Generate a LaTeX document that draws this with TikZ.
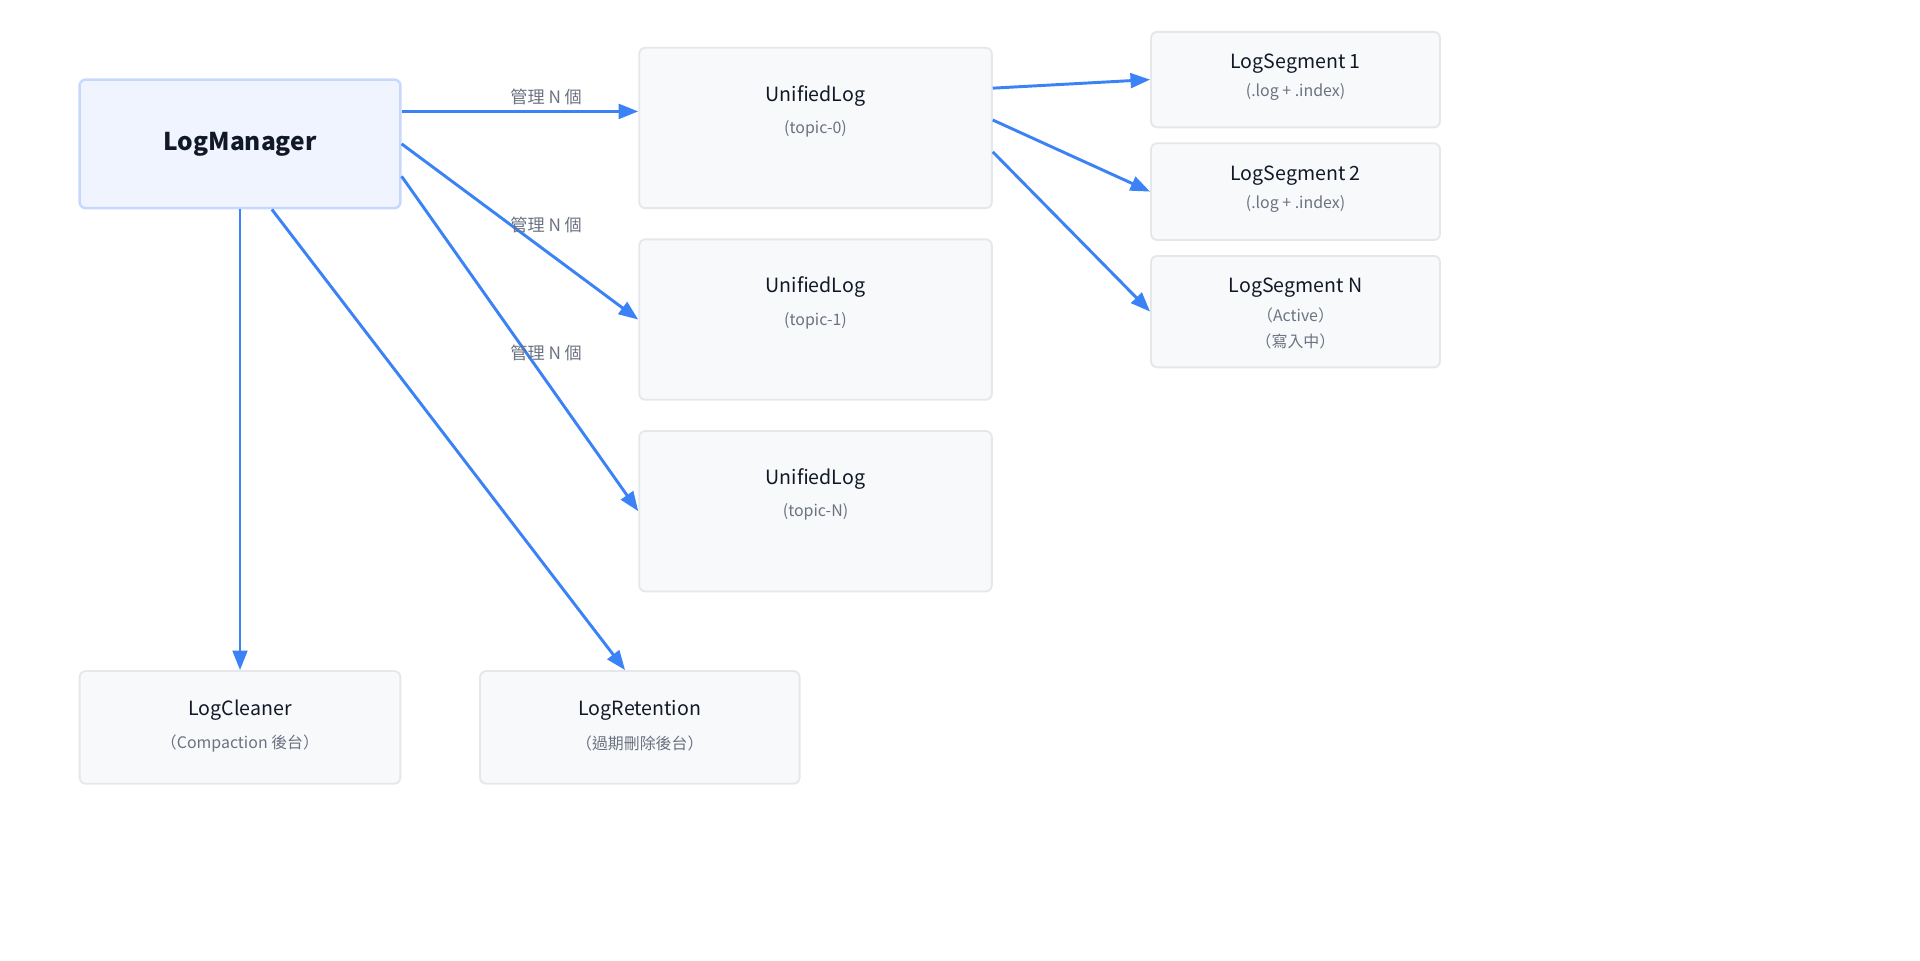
\documentclass[tikz,border=0pt]{standalone}
\usepackage{fontspec}
\setmainfont{Noto Sans CJK TC}
\usetikzlibrary{arrows.meta}
\definecolor{arrowBlue}{HTML}{3B82F6}
\definecolor{mgrFill}{HTML}{EFF4FF}
\definecolor{mgrLine}{HTML}{C7D7FE}
\definecolor{boxFill}{HTML}{F8F9FB}
\definecolor{boxLine}{HTML}{E5E7EB}
\definecolor{titleGray}{HTML}{111827}
\definecolor{subGray}{HTML}{6B7280}
\tikzset{
  compbox/.style={draw=boxLine, fill=boxFill, line width=1.5pt, rounded corners=5pt, minimum width=#1, inner sep=0pt},
  title/.style={text=titleGray, font=\fontsize{16}{19}\selectfont},
  sub/.style={text=subGray, font=\fontsize{13}{16}\selectfont},
  flow/.style={draw=arrowBlue, line width=2.4pt, -{Triangle[length=16pt,width=12pt]}},
  edgelabel/.style={text=subGray, font=\fontsize{14}{17}\selectfont},
}
\begin{document}
\begin{tikzpicture}[x=1pt, y=-1pt]
  \useasboundingbox (0,0) rectangle (1568,784);
  % manager
  \node[compbox=262pt, minimum height=105pt, draw=mgrLine, fill=mgrFill, line width=2pt] (lm) at (196,117.5) {};
  \node[text=titleGray, font=\bfseries\fontsize{20}{24}\selectfont] (lmtitle) at (lm) {LogManager};

  % unified logs
  \foreach \name/\y/\topic in {ul0/104.5/topic-0, ul1/261/topic-1, uln/417.5/topic-N}{
    \node[compbox=288pt, minimum height=131pt] (\name) at (666,\y) {};
    \node[title] (\name title) at ([yshift=-40]\name.north) {UnifiedLog};
    \node[sub] (\name sub) at ([yshift=-67]\name.north) {(\topic)};
  }

  % segments
  \node[compbox=236pt, minimum height=78pt] (seg1) at (1058,65) {};
  \node[title] (seg1title) at ([yshift=-27]seg1.north) {LogSegment 1};
  \node[sub] (seg1sub) at ([yshift=-50]seg1.north) {(.log + .index)};
  \node[compbox=236pt, minimum height=79pt] (seg2) at (1058,156.5) {};
  \node[title] (seg2title) at ([yshift=-27]seg2.north) {LogSegment 2};
  \node[sub] (seg2sub) at ([yshift=-50]seg2.north) {(.log + .index)};
  \node[compbox=236pt, minimum height=91pt] (segn) at (1058,254.5) {};
  \node[title] (segntitle) at ([yshift=-27]segn.north) {LogSegment N};
  \node[sub] (segnsub) at ([yshift=-49]segn.north) {（Active）};
  \node[sub] (segnsub2) at ([yshift=-71]segn.north) {（寫入中）};

  % background workers
  \node[compbox=262pt, minimum height=92pt] (cleaner) at (196,594) {};
  \node[title] (cleanertitle) at ([yshift=-33]cleaner.north) {LogCleaner};
  \node[sub] (cleanersub) at ([yshift=-60]cleaner.north) {（Compaction 後台）};
  \node[compbox=261pt, minimum height=92pt] (retention) at (522.5,594) {};
  \node[title] (retentiontitle) at ([yshift=-33]retention.north) {LogRetention};
  \node[sub] (retentionsub) at ([yshift=-60]retention.north) {（過期刪除後台）};

  % connectors
  \draw[flow] ([yshift=26.5]lm.east) -- ([yshift=13.5]ul0.west);
  \draw[flow] (lm.east) -- (ul1.west);
  \draw[flow] ([yshift=-26.5]lm.east) -- (uln.west);
  \draw[flow] (lm.south) -- (cleaner.north);
  \draw[flow] ([xshift=26]lm.south) -- ([xshift=-12]retention.north);
  \draw[flow] ([yshift=32.5]ul0.east) -- (seg1.west);
  \draw[flow] ([yshift=6.5]ul0.east) -- (seg2.west);
  \draw[flow] ([yshift=-19.5]ul0.east) -- (segn.west);

  \node[edgelabel] (lab0) at (446,79) {管理 N 個};
  \node[edgelabel] (lab1) at (446,184) {管理 N 個};
  \node[edgelabel] (labn) at (446,288) {管理 N 個};
\end{tikzpicture}
\end{document}
